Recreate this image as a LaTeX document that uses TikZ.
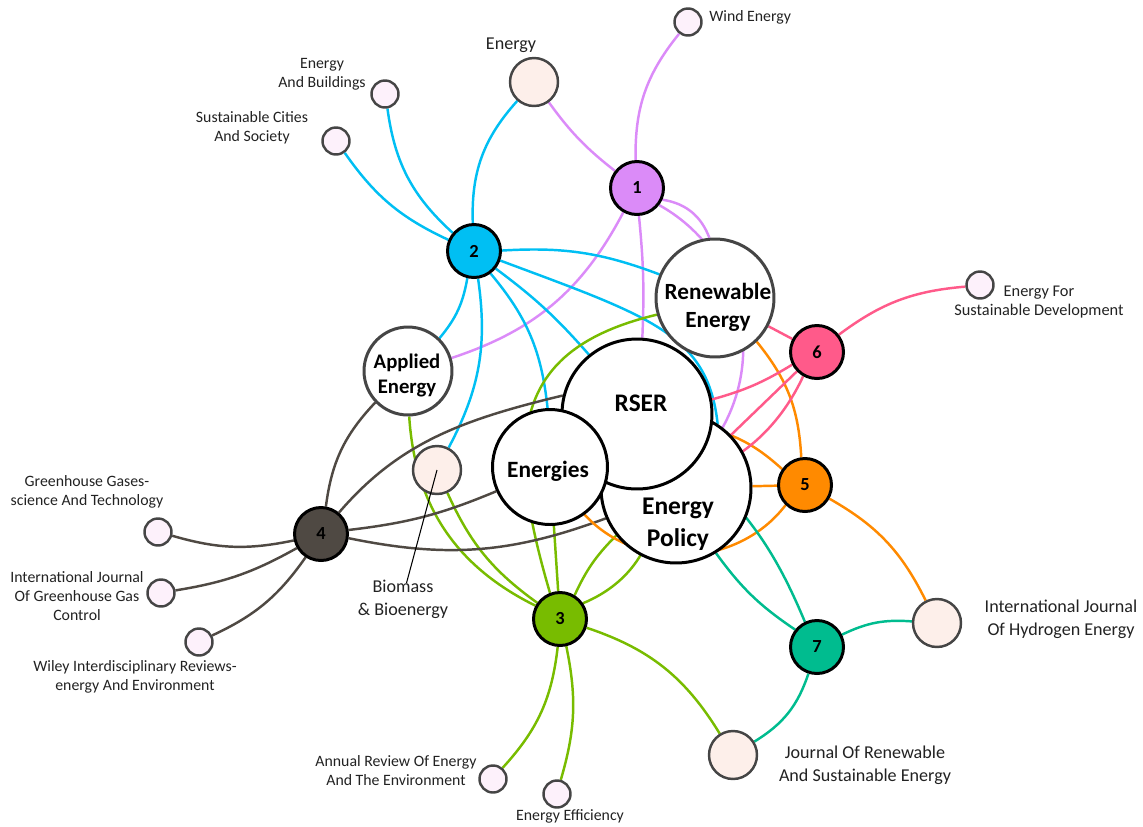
\documentclass[tikz,border=0pt]{standalone}
\usepackage{fontspec}
\setmainfont{Carlito}
\usepackage{xcolor}
\usepackage{tikz}

\pgfdeclarelayer{bg}
\pgfsetlayers{bg,main}

\definecolor{cviolet}{HTML}{DB8BF8}
\definecolor{ccyan}{HTML}{00BFF3}
\definecolor{cgreen}{HTML}{78BC00}
\definecolor{cdark}{HTML}{4F4943}
\definecolor{cpink}{HTML}{FF5A8A}
\definecolor{corange}{HTML}{FF8A00}
\definecolor{cteal}{HTML}{00BC8F}
\definecolor{lilac}{HTML}{FDF1FB}
\definecolor{peach}{HTML}{FDEFEA}
\definecolor{rim}{HTML}{454545}
\definecolor{ink}{HTML}{222222}

\begin{document}
\begin{tikzpicture}[x=0.02cm,y=-0.02cm,
    num/.style={circle,draw=black,line width=1.7pt,minimum size=1.06cm,inner sep=0pt,font=\fontsize{10.5}{12}\selectfont\bfseries},
    src/.style={circle,draw=rim,line width=1.4pt,fill=lilac,minimum size=0.54cm,inner sep=0pt},
    jrn/.style={circle,draw=rim,line width=1.4pt,fill=peach,minimum size=0.96cm,inner sep=0pt},
    big/.style={circle,draw=black,line width=1.7pt,fill=white,inner sep=0pt},
    lbl/.style={font=\fontsize{9}{10.8}\selectfont,text=ink,align=center,inner sep=0pt},
    lblb/.style={font=\fontsize{10.3}{13}\selectfont,text=ink,align=center,inner sep=0pt},
    link/.style={line width=1.4pt}]

            \useasboundingbox (0,0) rectangle (1143,826);

            \node[big,minimum size=3cm] (ep) at (676,488) {};
            \node[big,minimum size=3cm] (rser) at (637,414) {};
            \node[big,minimum size=2.3cm] (energies) at (550,467) {};
            \node[big,draw=rim,minimum size=2.36cm] (re) at (715,298) {};
            \node[big,draw=rim,minimum size=1.76cm] (ae) at (408,371) {};

            \node[font=\fontsize{14.4}{17}\selectfont\bfseries,anchor=base] at (641,411) {RSER};
            \node[font=\fontsize{13.3}{16}\selectfont\bfseries,anchor=base] at (548,477) {Energies};
            \node[font=\fontsize{14.5}{18.5}\selectfont\bfseries,align=center] at (678,524) {Energy\\Policy};
            \node[font=\fontsize{13.2}{15.9}\selectfont\bfseries,align=center] at (718,307) {Renewable\\Energy};
            \node[font=\fontsize{11.8}{14.2}\selectfont\bfseries,align=center] at (407,375) {Applied\\Energy};

            \node[num,fill=cviolet] (n1) at (637,188) {1};
            \node[num,fill=ccyan] (n2) at (474,251) {2};
            \node[num,fill=cgreen] (n3) at (560,619) {3};
            \node[num,fill=cdark] (n4) at (321,534) {4};
            \node[num,fill=corange] (n5) at (805,485) {5};
            \node[num,fill=cpink] (n6) at (817,352) {6};
            \node[num,fill=cteal] (n7) at (817,647) {7};

            \node[src] (wind) at (688,22) {};
            \node[src] (eab) at (385,94) {};
            \node[src] (scs) at (336,141) {};
            \node[src] (efsd) at (980,285) {};
            \node[src] (ghg) at (158,532) {};
            \node[src] (ijggc) at (161,593) {};
            \node[src] (wiley) at (199,642) {};
            \node[src] (annual) at (493,779) {};
            \node[src] (eneff) at (557,794) {};
            \node[jrn] (energy) at (534,82) {};
            \node[jrn] (bio) at (437,470) {};
            \node[jrn] (ijhe) at (937,623) {};
            \node[jrn] (jrse) at (733,755) {};

            \node[lbl,anchor=west] at (709,17) {Wind Energy};
            \node[lblb] at (511,45) {Energy};
            \node[lbl] at (322,74) {Energy\\And Buildings};
            \node[lbl] at (252,128) {Sustainable Cities\\And Society};
            \node[lbl,font=\fontsize{9.3}{11}\selectfont] at (1039,302) {Energy For\\Sustainable Development};
            \node[lbl] at (87,492) {Greenhouse Gases-\\science And Technology};
            \node[lbl] at (77,596) {International Journal\\Of Greenhouse Gas\\Control};
            \node[lbl] at (135,677) {Wiley Interdisciplinary Reviews-\\energy And Environment};
            \node[lbl] at (396,771) {Annual Review Of Energy\\And The Environment};
            \node[lbl] at (570,816) {Energy Efficiency};
            \node[lblb] at (865,765) {Journal Of Renewable\\And Sustainable Energy};
            \node[lblb] at (1061,619) {International Journal\\Of Hydrogen Energy};
            \node[lblb] (biolab) at (403,599) {Biomass\\\& Bioenergy};
            \draw[line width=0.6pt] ([xshift=2pt,yshift=-2pt]biolab.north) -- (bio.center);

            \begin{pgfonlayer}{bg}
            \draw[link,cviolet] (n1) to[bend left=20] (wind);
            \draw[link,cviolet] (n1) to[bend left=8] (energy);
            \draw[link,cviolet] (n1) to[bend left=30] (re);
            \draw[link,cviolet] (n1) to[bend left=45] (ep);
            \draw[link,cviolet] (n1) to[bend left=4] (rser);
            \draw[link,cviolet] (n1) to[bend left=22] (ae);

            \draw[link,ccyan] (n2) to[bend left=15] (scs);
            \draw[link,ccyan] (n2) to[bend left=20] (eab);
            \draw[link,ccyan] (n2) to[bend left=22] (energy);
            \draw[link,ccyan] (n2) to[bend left=15] (ae);
            \draw[link,ccyan] (n2) to[bend left=18] (bio);
            \draw[link,ccyan] (n2) to[bend left=17] (energies);
            \draw[link,ccyan] (n2) to[bend left=6] (rser);
            \draw[link,ccyan] (n2) to[bend left=12] (re);
            \draw[link,ccyan] (n2.-20) .. controls +(150,56) and +(-10,-90) .. (ep.57);

            \draw[link,cgreen] (n3) to[bend left=30] (ae);
            \draw[link,cgreen] (n3) to[bend left=15] (bio);
            \draw[link,cgreen] (n3) to (energies);
            \draw[link,cgreen] (n3.111) .. controls +(-45,-153) and +(-147,35) .. (re.196);
            \draw[link,cgreen] (n3) to[bend left=10] (ep);
            \draw[link,cgreen] (n3) to[bend right=35] (rser);
            \draw[link,cgreen] (n3) to[bend left=18] (annual);
            \draw[link,cgreen] (n3) to[bend left=14] (eneff);
            \draw[link,cgreen] (n3) to[bend left=20] (jrse);

            \draw[link,cdark] (n4) to[bend left=18] (ae);
            \draw[link,cdark] (n4.50) .. controls +(60,-70) and +(-100,24) .. (rser.166);
            \draw[link,cdark] (n4) to[bend right=8] (energies);
            \draw[link,cdark] (n4) to[bend right=16] (ep);
            \draw[link,cdark] (n4) to[bend left=14] (ghg);
            \draw[link,cdark] (n4) to[bend left=10] (ijggc);
            \draw[link,cdark] (n4) to[bend left=15] (wiley);

            \draw[link,corange] (n5) to[bend right=18] (re);
            \draw[link,corange] (n5) to[bend right=12] (rser);
            \draw[link,corange] (n5) to (ep);
            \draw[link,corange] (n5) to[bend left=50] (energies);
            \draw[link,corange] (n5) to[bend left=17] (ijhe);

            \draw[link,cpink] (n6) to[bend left=16] (efsd);
            \draw[link,cpink] (n6) to (re);
            \draw[link,cpink] (n6) to[bend left=8] (rser);
            \draw[link,cpink] (n6) to (ep);
            \draw[link,cpink] (n6) to[bend left=37] (energies);

            \draw[link,cteal] (n7) to[bend right=12] (rser);
            \draw[link,cteal] (n7) to[bend left=10] (ep);
            \draw[link,cteal] (n7) to[bend left=15] (ijhe);
            \draw[link,cteal] (n7) to[bend left=20] (jrse);
            \end{pgfonlayer}
         \end{tikzpicture}
\end{document}
